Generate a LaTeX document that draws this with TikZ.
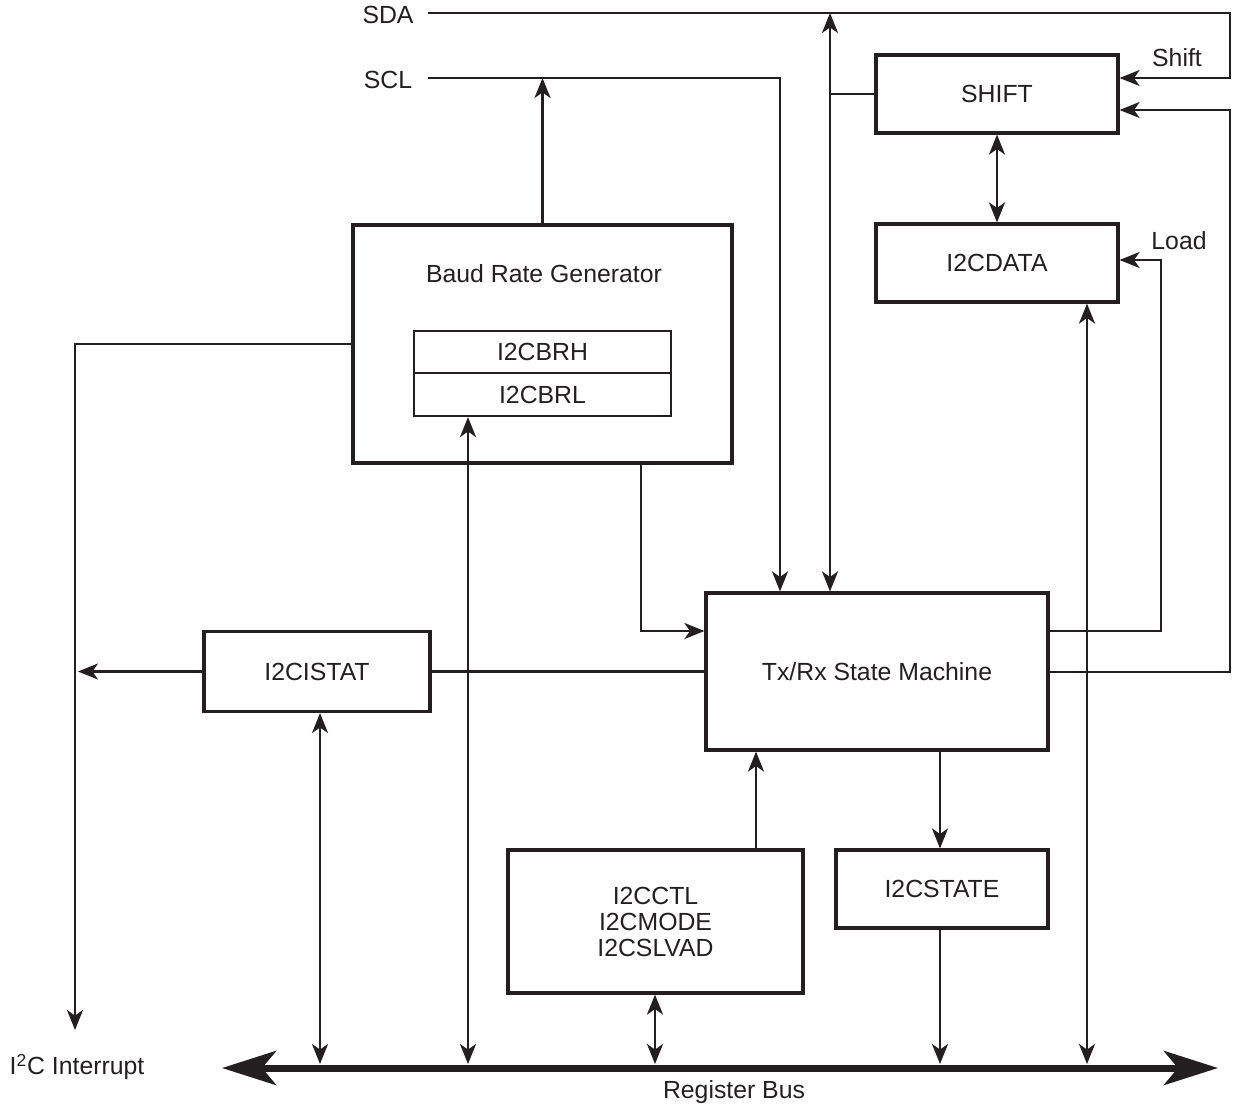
\documentclass[tikz,border=0pt]{standalone}
\usepackage{fontspec}
\setmainfont{Liberation Sans}
\usetikzlibrary{arrows.meta,calc}
\definecolor{ink}{HTML}{231F20}
\begin{document}
\begin{tikzpicture}[x=0.5pt,y=-0.5pt,
  every node/.style={font=\fontsize{12.4}{13}\selectfont, text=ink},
  box/.style={draw=ink, line width=1.6pt, inner sep=0pt, align=center},
  thinbox/.style={draw=ink, line width=1.1pt, inner sep=0pt, align=center},
  ln/.style={draw=ink, line width=1.15pt},
  arr/.style={ln, -{Stealth[length=10pt,width=8pt,inset=2.8pt]}},
  biarr/.style={ln, {Stealth[length=10pt,width=8pt,inset=2.8pt]}-{Stealth[length=10pt,width=8pt,inset=2.8pt]}},
  busarr/.style={draw=ink, line width=3.5pt, {Stealth[length=27pt,width=17pt,inset=7pt]}-{Stealth[length=27pt,width=17pt,inset=7pt]}},
  lbl/.style={inner sep=0pt}
]
\useasboundingbox (0,0) rectangle (1238,1108);

% boxes
\node[box, minimum width=121pt, minimum height=39pt] (shift) at (997,94) {SHIFT};
\node[box, minimum width=121pt, minimum height=39pt] (data) at (997,263) {I2CDATA};
\node[box, minimum width=189.5pt, minimum height=119pt] (brg) at (542.5,344) {};
\node[lbl] (brgt) at (544,274) {Baud Rate Generator};
\node[thinbox, minimum width=128.5pt, minimum height=21pt] (brh) at (542.5,352) {I2CBRH};
\node[thinbox, minimum width=128.5pt, minimum height=21.5pt] (brl) at (542.5,394.5) {I2CBRL};
\node[box, minimum width=171pt, minimum height=78.5pt] (sm) at (877,671.5) {Tx/Rx State Machine};
\node[box, minimum width=113pt, minimum height=40pt] (istat) at (317,671.5) {I2CISTAT};
\node[box, minimum width=147.5pt, minimum height=71.5pt] (ctl) at (655.5,921.5) {I2CCTL\\I2CMODE\\I2CSLVAD};
\node[box, minimum width=106pt, minimum height=39pt] (state) at (942,889) {I2CSTATE};

% labels
\node[lbl] (sda) at (388,15) {SDA};
\node[lbl] (scl) at (388,80) {SCL};
\node[lbl] (shl) at (1177,58) {Shift};
\node[lbl] (ldl) at (1179,241) {Load};
\node[lbl] (irq) at (77,1067) {I\textsuperscript{2}C Interrupt};
\node[lbl] (rb) at (734,1092) {Register Bus};

% coordinates
\coordinate (sdaL) at (428,13);
\coordinate (sdaR) at (1230,13);
\coordinate (sdaD) at (1230,78);
\coordinate (v830) at (830,13);
\coordinate (sclL) at (428,78);
\coordinate (sclC) at (780,78);
\coordinate (intC) at (75,1030);
\coordinate (intA) at (78,672);
\coordinate (bsm) at (641,631);
\coordinate (ld) at (1161,631);
\coordinate (ld2) at (1161,260);
\coordinate (fb) at (1230,672);
\coordinate (fb2) at (1230,110);
\coordinate (busL) at (222,1068);
\coordinate (busR) at (1218,1068);
\coordinate (b320) at (320,1064);
\coordinate (b468) at (468,1064);
\coordinate (b655) at (655,1064);
\coordinate (b940) at (940,1064);
\coordinate (b1087) at (1087,1064);
\coordinate (c756) at (756,0);

% connectors
\draw[arr] (sdaL) -- (sdaR) -- (sdaD) -- (sdaD -| shift.east);
\draw[biarr] (v830) -- (v830 |- sm.north);
\draw[ln] (shift.west) -- (shift.west -| v830);
\draw[arr] (sclL) -- (sclC) -- (sclC |- sm.north);
\draw[arr] (brg.north) -- (brg.north |- sclL);
\draw[arr] (brg.west) -- (brg.west -| intC) -- (intC);
\draw[arr] (bsm |- brg.south) -- (bsm) -- (bsm -| sm.west);
\draw[biarr] (shift.south) -- (data.north);
\draw[arr] (ld -| sm.east) -- (ld) -- (ld2) -- (ld2 -| data.east);
\draw[arr] (fb -| sm.east) -- (fb) -- (fb2) -- (fb2 -| shift.east);
\draw[biarr] (data.south -| b1087) -- (b1087);
\draw[arr] (istat.west) -- (istat.west -| intA);
\draw[ln] (istat.east) -- (istat.east -| sm.west);
\draw[biarr] (istat.south -| b320) -- (b320);
\draw[biarr] (brl.south -| b468) -- (b468);
\draw[arr] (ctl.north -| c756) -- (sm.south -| c756);
\draw[biarr] (ctl.south -| b655) -- (b655);
\draw[arr] (sm.south -| b940) -- (state.north -| b940);
\draw[arr] (state.south -| b940) -- (b940);
\draw[busarr] (busL) -- (busR);
\end{tikzpicture}
\end{document}
